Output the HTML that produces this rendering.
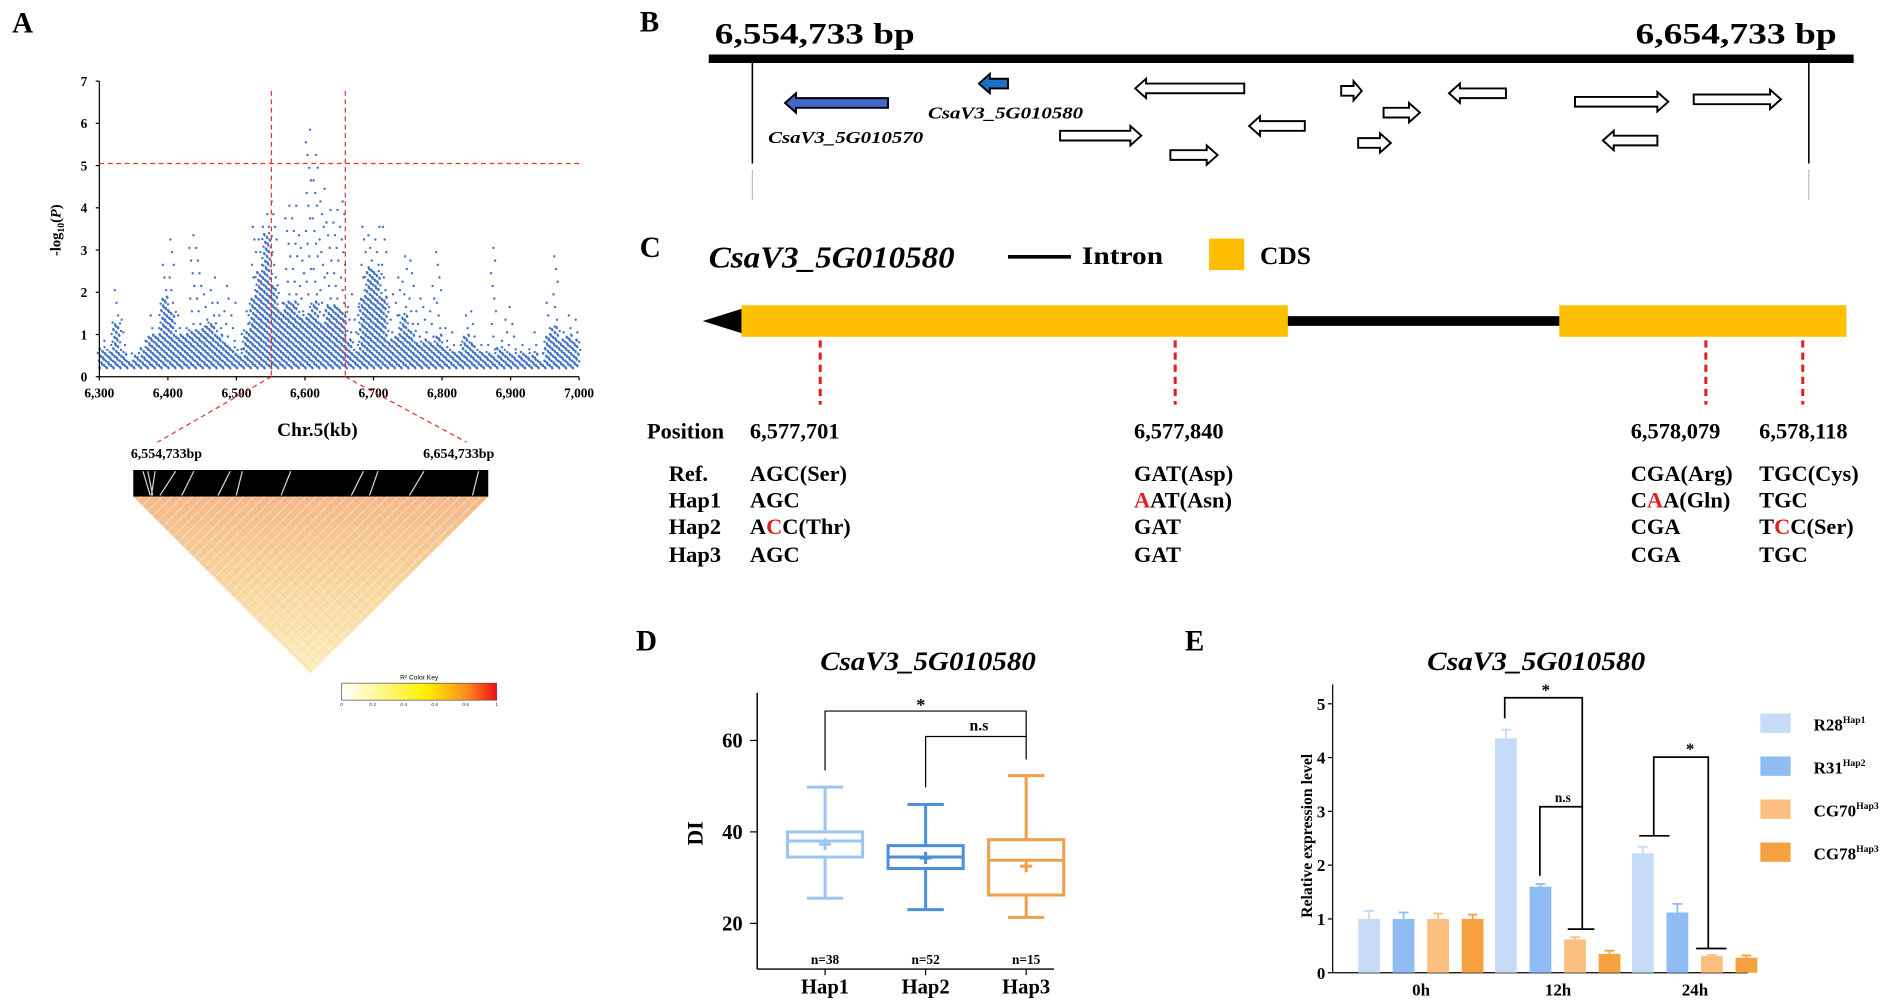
<!DOCTYPE html>
<html><head><meta charset="utf-8"><style>
html,body{margin:0;padding:0;background:#fff;}
svg{display:block;font-family:"Liberation Serif",serif;}
</style></head><body>
<svg id="fig" width="1890" height="1003" viewBox="0 0 1560 828" preserveAspectRatio="none" xmlns="http://www.w3.org/2000/svg">
<defs>
<linearGradient id="ldg" x1="0" y1="0" x2="0" y2="1">
<stop offset="0" stop-color="#f3b98a"/><stop offset="0.5" stop-color="#f8d7a0"/><stop offset="1" stop-color="#fcefc0"/></linearGradient>
<pattern id="ldp" width="6" height="6" patternUnits="userSpaceOnUse" patternTransform="rotate(45)">
<rect width="6" height="6" fill="none"/><line x1="0" y1="0" x2="0" y2="6" stroke="#fff7d8" stroke-width="1.5" opacity="0.6"/></pattern>
<pattern id="ldp2" width="7" height="7" patternUnits="userSpaceOnUse" patternTransform="rotate(-45)">
<line x1="0" y1="0" x2="0" y2="7" stroke="#f2a878" stroke-width="1" opacity="0.35"/></pattern>
<linearGradient id="keyg" x1="0" x2="1"><stop offset="0" stop-color="#ffffff"/><stop offset="0.55" stop-color="#ffee00"/><stop offset="0.8" stop-color="#ff9020"/><stop offset="1" stop-color="#ee1010"/></linearGradient>
</defs>

<!-- Panel A -->
<g>
<text x="10" y="27" font-size="24" font-weight="bold">A</text>
<g id="manh"></g>
<line x1="82" y1="67" x2="82" y2="311" stroke="#000"/>
<line x1="82" y1="311" x2="478" y2="311" stroke="#000"/>
<g id="aTicks" font-size="11" font-weight="bold"></g>
<text transform="translate(50,190) rotate(-90)" text-anchor="middle" font-size="12" font-weight="bold">-log<tspan font-size="8" dy="3">10</tspan><tspan dy="-3">(</tspan><tspan font-style="italic">P</tspan>)</text>
<text x="262" y="360" text-anchor="middle" font-size="16" font-weight="bold">Chr.5(kb)</text>
<line x1="82" y1="135" x2="478" y2="135" stroke="#e83030" stroke-dasharray="4,3"/>
<line x1="224" y1="75" x2="224" y2="311" stroke="#e83030" stroke-dasharray="4,3"/>
<line x1="285" y1="75" x2="285" y2="311" stroke="#e83030" stroke-dasharray="4,3"/>
<line x1="224" y1="311" x2="130" y2="365" stroke="#e83030" stroke-dasharray="4,3"/>
<line x1="285" y1="311" x2="385" y2="365" stroke="#e83030" stroke-dasharray="4,3"/>
<text x="108" y="378" font-size="11.5" font-weight="bold">6,554,733bp</text>
<text x="408" y="378" text-anchor="end" font-size="11.5" font-weight="bold">6,654,733bp</text>
<rect x="110" y="388" width="293" height="22" fill="#000"/>
<g stroke="#fff" stroke-width="1" opacity="0.85">
<path d="M118 389 L124 409 M122 389 L126 409 M128 389 L125 409 M145 389 L132 409 M160 389 L150 409 M190 389 L180 409 M200 389 L195 409 M240 389 L232 409 M300 389 L290 409 M312 389 L305 409 M350 389 L338 409 M395 389 L390 409" fill="none"/></g>
<polygon points="110,410 403,410 256,556" fill="url(#ldg)"/>
<polygon points="110,410 403,410 256,556" fill="url(#ldp)"/>
<polygon points="110,410 403,410 256,556" fill="url(#ldp2)"/>
<text x="346" y="561" text-anchor="middle" font-size="5.5" font-family="Liberation Sans, sans-serif">R² Color Key</text>
<rect x="282" y="564" width="128" height="14" fill="url(#keyg)" stroke="#555" stroke-width="0.6"/>
<g font-size="4" font-family="Liberation Sans, sans-serif" text-anchor="middle" fill="#333">
<text x="282" y="583">0</text><text x="307.6" y="583">0.2</text><text x="333.2" y="583">0.4</text><text x="358.8" y="583">0.6</text><text x="384.4" y="583">0.8</text><text x="410" y="583">1</text></g>
</g>

<!-- Panel B -->
<g>
<text x="528" y="26" font-size="24" font-weight="bold">B</text>
<text x="590" y="36" font-size="24" font-weight="bold" textLength="165" lengthAdjust="spacingAndGlyphs">6,554,733 bp</text>
<text x="1350" y="36" font-size="24" font-weight="bold" textLength="166" lengthAdjust="spacingAndGlyphs">6,654,733 bp</text>
<rect x="585" y="45" width="945" height="7" fill="#000"/>
<line x1="621" y1="52" x2="621" y2="135" stroke="#000" stroke-width="1.3"/>
<line x1="1493" y1="52" x2="1493" y2="135" stroke="#000" stroke-width="1.3"/>
<line x1="621" y1="140" x2="621" y2="165" stroke="#bbb" stroke-width="1"/>
<line x1="1493" y1="140" x2="1493" y2="165" stroke="#bbb" stroke-width="1"/>
<g id="genes"></g>
<text x="766" y="98" font-size="14" font-weight="bold" font-style="italic" textLength="128" lengthAdjust="spacingAndGlyphs">CsaV3_5G010580</text>
<text x="634" y="118" font-size="14" font-weight="bold" font-style="italic" textLength="128" lengthAdjust="spacingAndGlyphs">CsaV3_5G010570</text>
</g>

<!-- Panel C -->
<g font-weight="bold">
<text x="528" y="212" font-size="24">C</text>
<text x="585" y="221" font-size="25" font-style="italic" textLength="203" lengthAdjust="spacingAndGlyphs">CsaV3_5G010580</text>
<line x1="832" y1="212" x2="884" y2="212" stroke="#000" stroke-width="3"/>
<text x="893" y="218" font-size="21" textLength="67" lengthAdjust="spacingAndGlyphs">Intron</text>
<rect x="998" y="197" width="29" height="26" fill="#fdbf00"/>
<text x="1040" y="218" font-size="21">CDS</text>
<polygon points="580,265 612,255 612,275" fill="#000"/>
<rect x="1060" y="261" width="230" height="8" fill="#000"/>
<rect x="612" y="252" width="451" height="26" fill="#fdbf00"/>
<rect x="1287" y="252" width="237" height="26" fill="#fdbf00"/>
<g stroke="#e02020" stroke-width="2.5" stroke-dasharray="6,4">
<line x1="677" y1="281" x2="677" y2="334"/>
<line x1="970" y1="281" x2="970" y2="334"/>
<line x1="1408" y1="281" x2="1408" y2="334"/>
<line x1="1488" y1="281" x2="1488" y2="334"/>
</g>
<g font-size="18.5">
<text x="534" y="362">Position</text>
<text x="619" y="362">6,577,701</text>
<text x="936" y="362">6,577,840</text>
<text x="1346" y="362">6,578,079</text>
<text x="1452" y="362">6,578,118</text>
<g>
<text x="552" y="397">Ref.</text><text x="552" y="419">Hap1</text><text x="552" y="441">Hap2</text><text x="552" y="464">Hap3</text>
<text x="619" y="397">AGC(Ser)</text><text x="619" y="419">AGC</text><text x="619" y="441">A<tspan fill="#e02020">C</tspan>C(Thr)</text><text x="619" y="464">AGC</text>
<text x="936" y="397">GAT(Asp)</text><text x="936" y="419"><tspan fill="#e02020">A</tspan>AT(Asn)</text><text x="936" y="441">GAT</text><text x="936" y="464">GAT</text>
<text x="1346" y="397">CGA(Arg)</text><text x="1346" y="419">C<tspan fill="#e02020">A</tspan>A(Gln)</text><text x="1346" y="441">CGA</text><text x="1346" y="464">CGA</text>
<text x="1452" y="397">TGC(Cys)</text><text x="1452" y="419">TGC</text><text x="1452" y="441">T<tspan fill="#e02020">C</tspan>C(Ser)</text><text x="1452" y="464">TGC</text>
</g></g>
</g>

<!-- Panel D -->
<g font-weight="bold">
<text x="525" y="537" font-size="24">D</text>
<text x="766" y="553" text-anchor="middle" font-size="22" font-style="italic" textLength="178" lengthAdjust="spacingAndGlyphs">CsaV3_5G010580</text>
<line x1="625" y1="572" x2="625" y2="800" stroke="#000" stroke-width="1.2"/>
<line x1="625" y1="800" x2="870" y2="800" stroke="#000" stroke-width="1.2"/>
<text transform="translate(580,688) rotate(-90)" text-anchor="middle" font-size="18">DI</text>
<g id="boxes"></g>
<g stroke="#000" stroke-width="1" fill="none">
<path d="M681 636 V587 H847 V627"/>
<path d="M764 650 V608 H847"/>
</g>
<text x="760" y="587" text-anchor="middle" font-size="15">*</text>
<text x="808" y="603" text-anchor="middle" font-size="13">n.s</text>
</g>

<!-- Panel E -->
<g font-weight="bold">
<text x="978" y="537" font-size="24">E</text>
<text x="1268" y="553" text-anchor="middle" font-size="22" font-style="italic" textLength="180" lengthAdjust="spacingAndGlyphs">CsaV3_5G010580</text>
<line x1="1100" y1="565" x2="1100" y2="803" stroke="#000" stroke-width="1"/>
<line x1="1100" y1="803" x2="1443" y2="803" stroke="#000" stroke-width="1"/>
<text transform="translate(1083,690) rotate(-90)" text-anchor="middle" font-size="13">Relative expression level</text>
<g id="bars"></g>
<g stroke="#000" stroke-width="1.4" fill="none">
<path d="M1242 593 V576 H1306 V767 M1294 767 H1316"/>
<path d="M1271 723 V666 H1306"/>
<path d="M1353 690 H1378 M1365 690 V625 H1410 V783 M1400 783 H1425"/>
</g>
<text x="1276" y="574" text-anchor="middle" font-size="14">*</text>
<text x="1290" y="662" text-anchor="middle" font-size="11">n.s</text>
<text x="1395" y="623" text-anchor="middle" font-size="14">*</text>
<g id="legend"></g>
</g>
</svg>
<script>
// ---------- Panel A data ----------
const aBinsKb = [6300,6310,6320,6330,6340,6350,6360,6370,6380,6390,6400,6410,6420,6430,6440,6450,6460,6470,6480,6490,6500,6510,6520,6530,6540,6550,6560,6570,6580,6590,6600,6610,6620,6630,6640,6650,6660,6670,6680,6690,6700,6710,6720,6730,6740,6750,6760,6770,6780,6790,6800,6810,6820,6830,6840,6850,6860,6870,6880,6890,6900,6910,6920,6930,6940,6950,6960,6970,6980,6990];
const aDense = [0.7,0.6,1.3,0.6,0.4,0.5,0.7,1.0,1.0,1.9,1.6,1.0,1.0,1.1,1.1,1.2,1.3,1.0,0.8,0.7,0.5,1.1,1.9,2.5,3.4,2.2,1.6,1.8,1.8,1.4,1.5,1.8,1.3,1.7,1.7,1.6,0.9,0.6,1.9,2.6,2.5,1.9,0.9,1.0,1.5,1.1,0.8,0.9,0.8,1.0,0.7,0.6,0.6,1.0,0.8,0.6,0.6,0.5,0.7,0.6,0.5,0.6,0.5,0.6,0.4,1.0,1.2,0.9,1.0,0.9];
const aTop = [0.9,0.8,2.3,1.4,0.6,0.5,0.9,1.5,1.2,2.7,3.3,1.5,1.2,3.4,3.3,2.2,2.4,1.9,2.3,1.9,0.9,1.7,3.8,3.8,3.9,4.2,2.0,4.2,4.15,3.6,5.9,5.3,4.5,4.1,4.15,4.3,2.0,1.9,3.8,3.6,3.8,3.8,2.0,2.5,2.9,3.0,1.9,1.7,2.3,3.0,1.3,1.2,0.8,1.5,1.7,0.8,0.9,3.2,1.0,1.7,1.4,0.8,0.8,1.2,0.6,1.9,3.0,1.3,1.6,1.6];
const aYTicks = [0,1,2,3,4,5,6,7];
const aXTicks = [6300,6400,6500,6600,6700,6800,6900,7000];

// ---------- Panel B data ----------
const bGeneStart = [648,808,937,875,966,1031,1107,1142,1121,1196,1300,1398,1323];
const bGeneEnd   = [733,832,1027,942,1005,1077,1124,1172,1148,1243,1377,1470,1368];
const bGeneRow   = [85,69,73,112,128,104,75,93,118,77,84,82,116];
const bGeneDir   = [-1,-1,-1,1,1,-1,1,1,1,-1,1,1,-1];
const bGeneFill  = ['#4169c8','#1d6fc0','#fff','#fff','#fff','#fff','#fff','#fff','#fff','#fff','#fff','#fff','#fff'];

// ---------- Panel D data ----------
const dGroups = ['Hap1','Hap2','Hap3'];
const dMin = [25.5,23,21.3];
const dQ1 = [34.5,32,26.2];
const dMed = [38,34.5,33.8];
const dQ3 = [40,37,38.3];
const dMax = [49.8,46,52.3];
const dMean = [37.3,34.3,32.5];
const dN = ['n=38','n=52','n=15'];
const dYTicks = [20,40,60];
const dColors = ['#9ec4f0','#4a8fe0','#f0a04a'];

// ---------- Panel E data ----------
const eTimes = ['0h','12h','24h'];
const eSeries = ['R28','R31','CG70','CG78'];
const eSup = ['Hap1','Hap2','Hap3','Hap3'];
const eR28 = [1.0,4.36,2.22];
const eR31 = [1.0,1.6,1.12];
const eCG70 = [1.0,0.62,0.31];
const eCG78 = [1.0,0.35,0.28];
const eErrR28 = [0.15,0.16,0.12];
const eErrR31 = [0.12,0.05,0.16];
const eErrCG70 = [0.1,0.04,0.02];
const eErrCG78 = [0.08,0.06,0.04];
const eYTicks = [0,1,2,3,4,5];
const eColors = ['#c6dcf6','#8fbdf3','#fbbf80','#f7a040'];

const NS='http://www.w3.org/2000/svg';
function mk(tag,attrs,parent){const e=document.createElementNS(NS,tag);for(const k in attrs)e.setAttribute(k,attrs[k]);parent.appendChild(e);return e;}

// Panel A
const ax=kb=>82+(kb-6300)*396/700, ay=v=>311-v*34.86;
const manh=document.getElementById('manh');
aBinsKb.forEach((kb,i)=>{
  for(let c=0;c<4;c++){
    const x=ax(kb+c*2.5+1);
    let j=0;
    for(let v=0.2+c*0.025;v<=aDense[i];v+=0.09){
      j++;
      const d=mk('circle',{cx:x+((j*7+c*3)%5-2)*0.9,cy:ay(v),r:1.0,fill:'#4472c4'},manh);
      
      
    }
  }
  let j=0;
  for(let v=aDense[i]+0.15;v<=aTop[i];v+=0.3){
    j++;
    const d=mk('circle',{cx:ax(kb+5+((j*5)%7-3)*1.2),cy:ay(v),r:1.0,fill:'#4472c4'},manh);
    
    
  }
});
const aT=document.getElementById('aTicks');
aYTicks.forEach(v=>{const t=mk('text',{x:72,y:ay(v)+4,'text-anchor':'end'},aT);t.textContent=v;
  
  mk('line',{x1:79,x2:82,y1:ay(v),y2:ay(v),stroke:'#000'},aT);});
aXTicks.forEach(v=>{const t=mk('text',{x:ax(v),y:328,'text-anchor':'middle'},aT);t.textContent=v.toLocaleString('en-US');
  
  mk('line',{x1:ax(v),x2:ax(v),y1:311,y2:314,stroke:'#000'},aT);});

// Panel B genes
const genes=document.getElementById('genes');
bGeneStart.forEach((s,i)=>{
  const e=bGeneEnd[i],y=bGeneRow[i],dir=bGeneDir[i],h=4,H=8,hl=Math.min(9,(e-s)*0.4);
  let pts;
  if(dir<0) pts=[[s,y],[s+hl,y-H],[s+hl,y-h],[e,y-h],[e,y+h],[s+hl,y+h],[s+hl,y+H]];
  else pts=[[e,y],[e-hl,y-H],[e-hl,y-h],[s,y-h],[s,y+h],[e-hl,y+h],[e-hl,y+H]];
  const p=mk('polygon',{points:pts.map(q=>q.join(',')).join(' '),fill:bGeneFill[i],stroke:'#000','stroke-width':1.6},genes);
  
  
});

// Panel D
const dy=v=>800-(v-10)*3.775, dx=i=>681+i*83;
const boxes=document.getElementById('boxes');
dYTicks.forEach(v=>{const t=mk('text',{x:613,y:dy(v)+6,'text-anchor':'end','font-size':17},boxes);t.textContent=v;
  
  mk('line',{x1:619,x2:625,y1:dy(v),y2:dy(v),stroke:'#000'},boxes);});
dGroups.forEach((g,i)=>{
  const x=dx(i),c=dColors[i],w=31;
  const grp=mk('g',{stroke:c,'stroke-width':2.5,fill:'none'},boxes);
  
  
  mk('line',{x1:x,x2:x,y1:dy(dMax[i]),y2:dy(dQ3[i])},grp);
  mk('line',{x1:x,x2:x,y1:dy(dQ1[i]),y2:dy(dMin[i])},grp);
  mk('line',{x1:x-15,x2:x+15,y1:dy(dMax[i]),y2:dy(dMax[i])},grp);
  mk('line',{x1:x-15,x2:x+15,y1:dy(dMin[i]),y2:dy(dMin[i])},grp);
  mk('rect',{x:x-w,y:dy(dQ3[i]),width:2*w,height:dy(dQ1[i])-dy(dQ3[i])},grp);
  mk('line',{x1:x-w,x2:x+w,y1:dy(dMed[i]),y2:dy(dMed[i])},grp);
  mk('line',{x1:x-5,x2:x+5,y1:dy(dMean[i]),y2:dy(dMean[i])},grp);
  mk('line',{x1:x,x2:x,y1:dy(dMean[i])-5,y2:dy(dMean[i])+5},grp);
  const n=mk('text',{x:x,y:796,'text-anchor':'middle','font-size':11},boxes);n.textContent=dN[i];
  
  const l=mk('text',{x:x,y:820,'text-anchor':'middle','font-size':17},boxes);l.textContent=g;
  
  mk('line',{x1:x,x2:x,y1:800,y2:805,stroke:'#000'},boxes);
});

// Panel E
const ey=v=>803-v*44.4, eGroupX=t=>1130+t*113;
const bars=document.getElementById('bars');
const eVals=[eR28,eR31,eCG70,eCG78], eErrs=[eErrR28,eErrR31,eErrCG70,eErrCG78];
eYTicks.forEach(v=>{const t=mk('text',{x:1094,y:ey(v)+5,'text-anchor':'end','font-size':14},bars);t.textContent=v;
  
  mk('line',{x1:1096,x2:1100,y1:ey(v),y2:ey(v),stroke:'#000'},bars);});
eTimes.forEach((tm,t)=>{
  eSeries.forEach((s,k)=>{
    const cx=eGroupX(t)+k*28.5,v=eVals[k][t],er=eErrs[k][t];
    const r=mk('rect',{x:cx-9,y:ey(v),width:18,height:803-ey(v),fill:eColors[k]},bars);
    
    
    mk('line',{x1:cx,x2:cx,y1:ey(v),y2:ey(v+er),stroke:eColors[k],'stroke-width':1.5},bars);
    mk('line',{x1:cx-4,x2:cx+4,y1:ey(v+er),y2:ey(v+er),stroke:eColors[k],'stroke-width':1.5},bars);
  });
  const l=mk('text',{x:eGroupX(t)+43,y:822,'text-anchor':'middle','font-size':14},bars);l.textContent=tm;
  
});
const leg=document.getElementById('legend');
eSeries.forEach((s,k)=>{
  const y=597+k*35.5;
  const r=mk('rect',{x:1453,y:y-8,width:25,height:16,fill:eColors[k]},leg);
  
  
  const t=mk('text',{x:1497,y:y+6,'font-size':14},leg);
  
  
  t.textContent=s;
  const sp=mk('tspan',{'font-size':8,dy:-6},t);sp.textContent=eSup[k];
});
</script>
</body></html>
